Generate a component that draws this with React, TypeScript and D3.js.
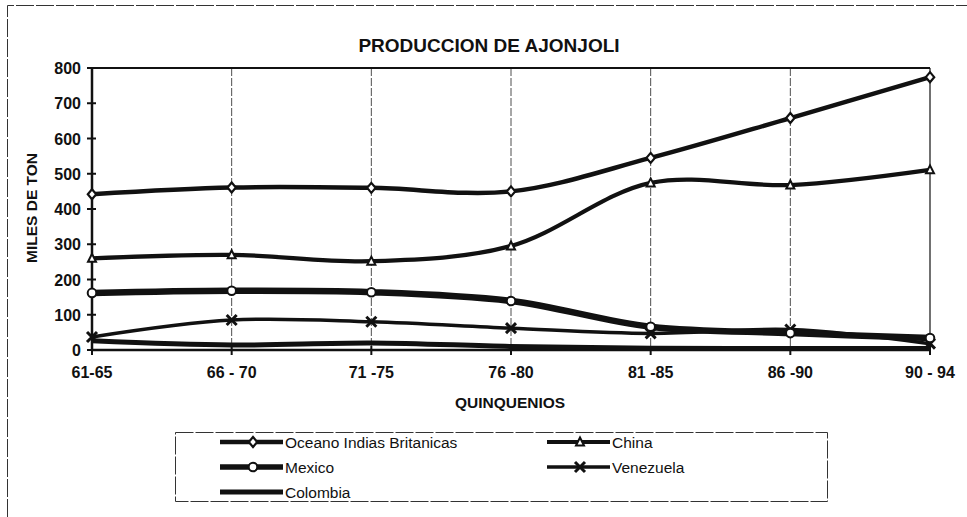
import { useEffect, useRef } from 'react';
import * as d3 from 'd3';

const periods = ['61-65', '66 - 70', '71 -75', '76 -80', '81 -85', '86 -90', '90 - 94'];
const yTicks = [0, 100, 200, 300, 400, 500, 600, 700, 800];

const oceano = [442, 461, 460, 450, 545, 658, 774];
const china = [260, 270, 252, 295, 474, 468, 511];
const mexico = [162, 168, 164, 139, 66, 48, 34];
const venezuela = [37, 85, 80, 62, 47, 58, 18];
const colombia = [26, 14, 20, 10, 5, 4, 4];

type Marker = 'diamond' | 'triangle' | 'circle' | 'x' | 'none';
interface Series { name: string; values: number[]; marker: Marker; width: number }

const series: Series[] = [
  { name: 'Colombia', values: colombia, marker: 'none', width: 5 },
  { name: 'Venezuela', values: venezuela, marker: 'x', width: 3.5 },
  { name: 'Mexico', values: mexico, marker: 'circle', width: 6.5 },
  { name: 'China', values: china, marker: 'triangle', width: 4.2 },
  { name: 'Oceano Indias Britanicas', values: oceano, marker: 'diamond', width: 4.5 },
];

const legendOrder = ['Oceano Indias Britanicas', 'China', 'Mexico', 'Venezuela', 'Colombia'];

const W = 967, H = 517;
const FONT = 'Liberation Sans, Arial, sans-serif';
const INK = '#111';

function drawMarker(g: d3.Selection<SVGGElement, unknown, null, undefined>, kind: Marker, x: number, y: number) {
  if (kind === 'diamond') {
    g.append('path').attr('d', `M${x},${y - 5}L${x + 4.2},${y}L${x},${y + 5}L${x - 4.2},${y}Z`)
      .attr('fill', '#fff').attr('stroke', INK).attr('stroke-width', 2.2);
  } else if (kind === 'triangle') {
    g.append('path').attr('d', `M${x},${y - 4.5}L${x + 4},${y + 3.5}L${x - 4},${y + 3.5}Z`)
      .attr('fill', '#fff').attr('stroke', INK).attr('stroke-width', 2);
  } else if (kind === 'circle') {
    g.append('circle').attr('cx', x).attr('cy', y).attr('r', 4.3)
      .attr('fill', '#fff').attr('stroke', INK).attr('stroke-width', 2);
  } else if (kind === 'x') {
    g.append('path').attr('d', `M${x - 5},${y - 5}L${x + 5},${y + 5}M${x + 5},${y - 5}L${x - 5},${y + 5}`)
      .attr('stroke', INK).attr('stroke-width', 3).attr('fill', 'none');
  }
}

export default function App() {
  const svgRef = useRef<SVGSVGElement>(null);

  useEffect(() => {
    if (!svgRef.current) return;
    const svg = d3.select(svgRef.current);
    svg.selectAll('*').remove();

    const left = 92, right = 930, top = 68, bottom = 350;
    const x = d3.scalePoint<string>().domain(periods).range([left, right]);
    const y = d3.scaleLinear().domain([0, 800]).range([bottom, top]);

    // outer frame (only top and left edges fall inside the picture)
    svg.append('path').attr('d', `M7.5,${H}V5.5H${W}`)
      .attr('fill', 'none').attr('stroke', '#333').attr('stroke-width', 1).attr('stroke-dasharray', '18 2');

    svg.append('text').attr('x', 489).attr('y', 52).attr('text-anchor', 'middle')
      .attr('font-family', FONT).attr('font-weight', 700).attr('font-size', 19).attr('fill', INK)
      .text('PRODUCCION DE AJONJOLI');

    // vertical gridlines
    svg.append('g').selectAll('line').data(periods.slice(1, -1)).join('line')
      .attr('x1', (d) => x(d)!).attr('x2', (d) => x(d)!).attr('y1', top).attr('y2', bottom)
      .attr('stroke', '#222').attr('stroke-width', 0.8).attr('stroke-dasharray', '8 2');
    svg.append('line').attr('x1', right).attr('x2', right).attr('y1', top).attr('y2', bottom)
      .attr('stroke', INK).attr('stroke-width', 1.2);
    svg.append('line').attr('x1', left).attr('x2', right).attr('y1', top).attr('y2', top)
      .attr('stroke', INK).attr('stroke-width', 2);

    // y axis
    const yAxis = svg.append('g');
    yAxis.append('line').attr('x1', left).attr('x2', left).attr('y1', top).attr('y2', bottom)
      .attr('stroke', INK).attr('stroke-width', 2.5);
    yAxis.selectAll('line.tick').data(yTicks).join('line').attr('class', 'tick')
      .attr('x1', left - 5).attr('x2', left + 4).attr('y1', (d) => y(d)).attr('y2', (d) => y(d))
      .attr('stroke', INK).attr('stroke-width', 2);
    yAxis.selectAll('text').data(yTicks).join('text')
      .attr('x', left - 11).attr('y', (d) => y(d) + 6).attr('text-anchor', 'end')
      .attr('font-family', FONT).attr('font-weight', 700).attr('font-size', 16).attr('fill', INK)
      .text((d) => d);
    svg.append('text').attr('transform', `translate(37,208) rotate(-90)`)
      .attr('text-anchor', 'middle').attr('font-family', FONT).attr('font-weight', 700)
      .attr('font-size', 15.5).attr('fill', INK).text('MILES DE TON');

    // x axis
    const xAxis = svg.append('g');
    xAxis.append('line').attr('x1', left).attr('x2', right).attr('y1', bottom).attr('y2', bottom)
      .attr('stroke', INK).attr('stroke-width', 2.5);
    xAxis.selectAll('line.tick').data(periods).join('line').attr('class', 'tick')
      .attr('x1', (d) => x(d)!).attr('x2', (d) => x(d)!).attr('y1', bottom - 4).attr('y2', bottom + 5)
      .attr('stroke', INK).attr('stroke-width', 2);
    xAxis.selectAll('text').data(periods).join('text')
      .attr('x', (d) => x(d)!).attr('y', 378).attr('text-anchor', 'middle')
      .attr('font-family', FONT).attr('font-weight', 700).attr('font-size', 16).attr('fill', INK)
      .text((d) => d);
    svg.append('text').attr('x', 510).attr('y', 408).attr('text-anchor', 'middle')
      .attr('font-family', FONT).attr('font-weight', 700).attr('font-size', 15.5).attr('fill', INK)
      .text('QUINQUENIOS');

    // series
    const line = d3.line<number>().x((_, i) => x(periods[i])!).y((d) => y(d))
      .curve(d3.curveCatmullRom.alpha(0.5));
    const plot = svg.append('g');
    series.forEach((s) => {
      plot.append('path').attr('d', line(s.values)).attr('fill', 'none')
        .attr('stroke', INK).attr('stroke-width', s.width).attr('stroke-linejoin', 'round');
    });
    series.forEach((s) => {
      s.values.forEach((v, i) => drawMarker(plot, s.marker, x(periods[i])!, y(v)));
    });

    // legend
    const lg = svg.append('g');
    lg.append('rect').attr('x', 175.5).attr('y', 432.5).attr('width', 652).attr('height', 69)
      .attr('fill', '#fff').attr('stroke', '#333').attr('stroke-width', 1).attr('stroke-dasharray', '18 2');
    legendOrder.forEach((name, i) => {
      const s = series.find((d) => d.name === name)!;
      const col = i % 2, row = Math.floor(i / 2);
      const lx = col === 0 ? 220 : 547;
      const ly = 442 + row * 25;
      lg.append('line').attr('x1', lx).attr('x2', lx + 63).attr('y1', ly).attr('y2', ly)
        .attr('stroke', INK).attr('stroke-width', Math.min(s.width, 5.5));
      drawMarker(lg, s.marker, lx + 33, ly);
      lg.append('text').attr('x', lx + 65).attr('y', ly + 5.5)
        .attr('font-family', FONT).attr('font-size', 15.5).attr('fill', INK).text(name);
    });
  }, []);

  return (
    <svg ref={svgRef} width={W} height={H}
      style={{ position: 'absolute', left: 0, top: 0, background: '#fff' }} />
  );
}
